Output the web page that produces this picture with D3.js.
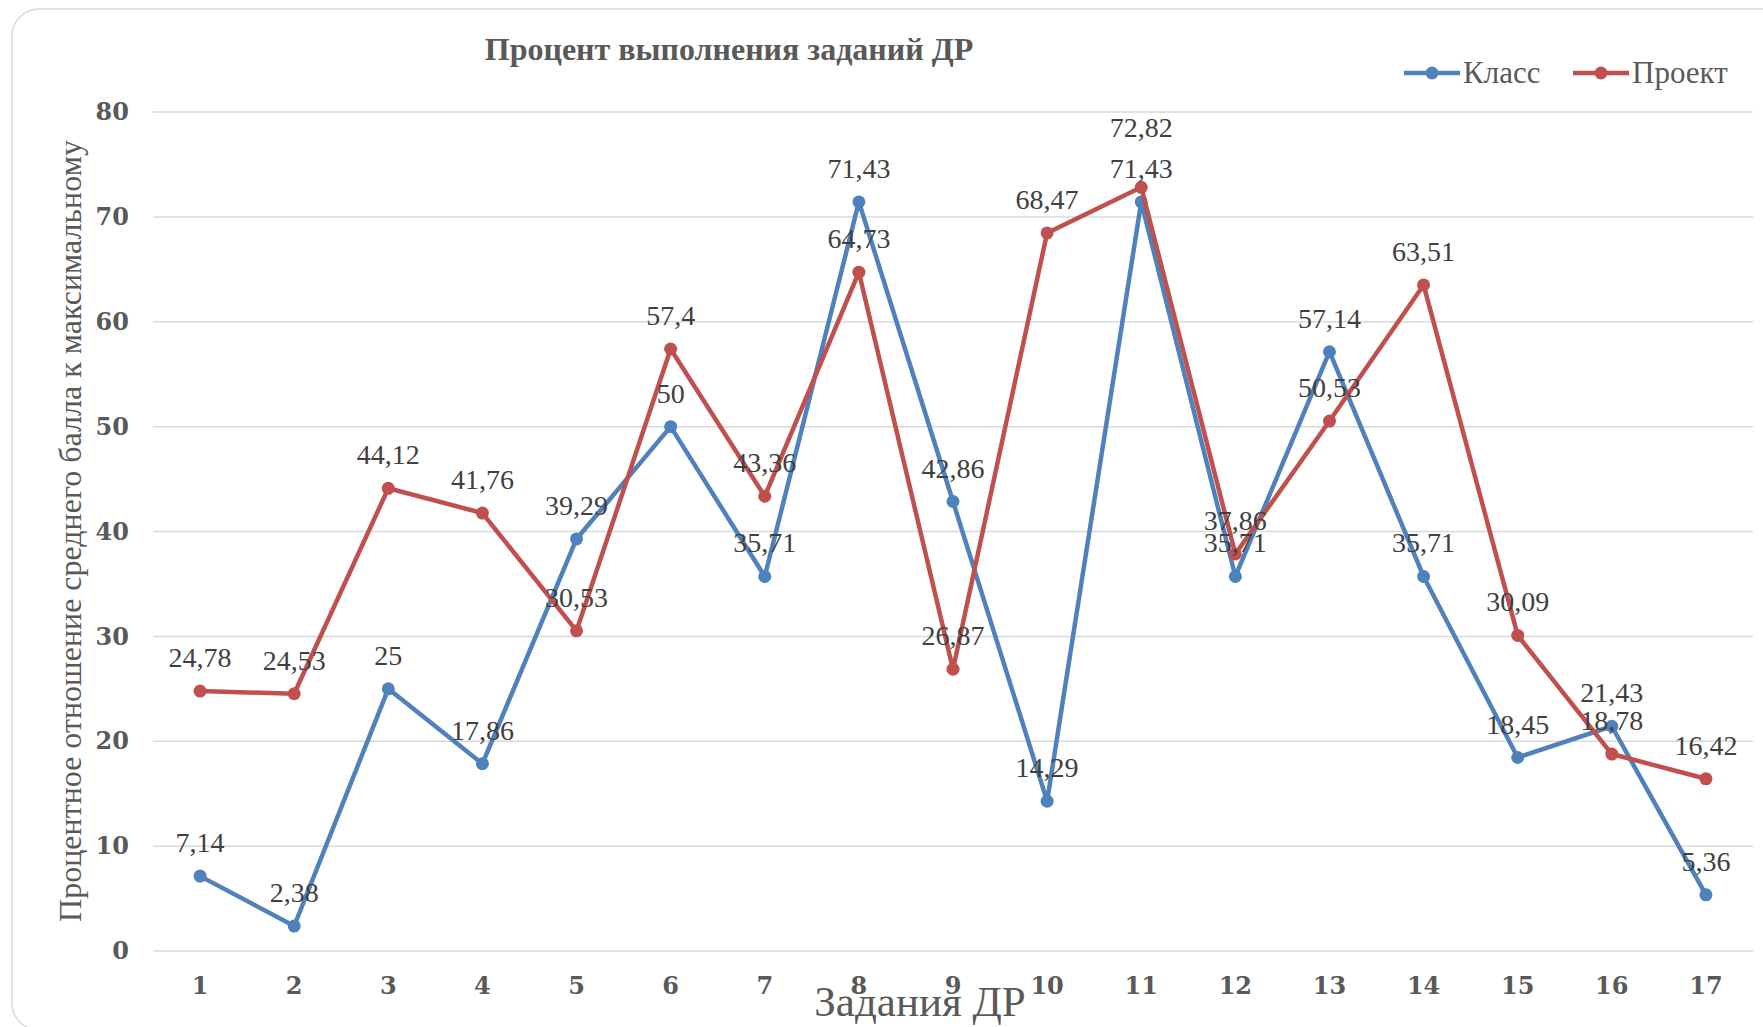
<!DOCTYPE html>
<html>
<head>
<meta charset="utf-8">
<script src="https://cdn.jsdelivr.net/npm/d3@7"></script>
<style>
  body { margin: 0; background: #fff; }
  text { font-family: "Liberation Serif", "Times New Roman", serif; }
</style>
</head>
<body>
<svg width="1763" height="1027"></svg>
<script>
var tasks = [1,2,3,4,5,6,7,8,9,10,11,12,13,14,15,16,17];
var klass  = [7.14, 2.38, 25, 17.86, 39.29, 50, 35.71, 71.43, 42.86, 14.29, 71.43, 35.71, 57.14, 35.71, 18.45, 21.43, 5.36];
var proekt = [24.78, 24.53, 44.12, 41.76, 30.53, 57.4, 43.36, 64.73, 26.87, 68.47, 72.82, 37.86, 50.53, 63.51, 30.09, 18.78, 16.42];
var yTicks = [0,10,20,30,40,50,60,70,80];
var seriesNames = ["Класс", "Проект"];

var colors = {"Класс": "#4f81bd", "Проект": "#c0504d"};
var svg = d3.select('svg');

// chart frame
svg.append('rect')
  .attr('x', 12).attr('y', 9)
  .attr('width', 1790).attr('height', 1021)
  .attr('rx', 27)
  .attr('fill', 'none')
  .attr('stroke', '#d9d9d9')
  .attr('stroke-width', 1.5);

var x = d3.scaleBand().domain(tasks).range([153, 1753]);
var y = d3.scaleLinear().domain([0, 80]).range([951, 112]);
var cx = d => x(d) + x.bandwidth()/2;

// gridlines
svg.append('g')
  .selectAll('line')
  .data(yTicks)
  .enter()
  .append('line')
    .attr('x1', 153).attr('x2', 1753)
    .attr('y1', d => y(d)).attr('y2', d => y(d))
    .attr('stroke', '#d9d9d9')
    .attr('stroke-width', 1.5);

// y axis labels
var yAxis = svg.append('g')
  .attr('transform', 'translate(129,0)')
  .call(d3.axisLeft(y).tickValues(yTicks).tickSize(0).tickPadding(0));
yAxis.select('.domain').remove();
yAxis.selectAll('text')
  .style('font-family', '"DejaVu Serif", serif')
  .style('font-size', '24px')
  .style('font-weight', 'bold')
  .attr('fill', '#595959');

// x axis labels
var xAxis = svg.append('g')
  .attr('transform', 'translate(0,951)')
  .call(d3.axisBottom(x).tickSize(0).tickPadding(26));
xAxis.select('.domain').remove();
xAxis.selectAll('text')
  .style('font-family', '"DejaVu Serif", serif')
  .style('font-size', '24px')
  .style('font-weight', 'bold')
  .attr('fill', '#595959');

var series = [
  {name: "Класс", values: klass},
  {name: "Проект", values: proekt}
];

var line = d3.line()
  .x((d,i) => cx(tasks[i]))
  .y(d => y(d));

series.forEach(function(s) {
  var g = svg.append('g');
  g.append('path')
    .datum(s.values)
    .attr('d', line)
    .attr('fill', 'none')
    .attr('stroke', colors[s.name])
    .attr('stroke-width', 4.5)
    .attr('stroke-linejoin', 'round');
  g.selectAll('circle')
    .data(s.values)
    .enter()
    .append('circle')
      .attr('cx', (d,i) => cx(tasks[i]))
      .attr('cy', d => y(d))
      .attr('r', 6.5)
      .attr('fill', colors[s.name]);
});

// data labels (above the points); the 72,82 label at task 11 is pushed up in the original
series.forEach(function(s) {
  svg.append('g')
    .selectAll('text')
    .data(s.values)
    .enter()
    .append('text')
      .attr('x', (d,i) => cx(tasks[i]))
      .attr('y', (d,i) => y(d) - 24 - (s.name == "Проект" && tasks[i] == 11 ? 26 : 0))
      .attr('text-anchor', 'middle')
      .attr('font-size', 28)
      .attr('fill', '#404040')
      .text(d => String(d).replace('.', ','));
});

// title
svg.append('text')
  .attr('x', 729)
  .attr('y', 60)
  .attr('text-anchor', 'middle')
  .attr('font-size', 32)
  .attr('font-weight', 'bold')
  .attr('fill', '#595959')
  .text('Процент выполнения заданий ДР');

// axis titles
svg.append('text')
  .attr('transform', 'translate(81,531) rotate(-90)')
  .attr('text-anchor', 'middle')
  .attr('font-size', 32)
  .attr('fill', '#595959')
  .text('Процентное отношение среднего балла к максимальному');

svg.append('text')
  .attr('x', 920)
  .attr('y', 1016)
  .attr('text-anchor', 'middle')
  .attr('font-size', 43)
  .attr('fill', '#595959')
  .text('Задания ДР');

// legend
var legX = [1404, 1573];
seriesNames.forEach(function(name, i) {
  var g = svg.append('g').attr('transform', 'translate(' + legX[i] + ',73)');
  g.append('line')
    .attr('x1', 0).attr('x2', 56)
    .attr('stroke', colors[name])
    .attr('stroke-width', 4.5);
  g.append('circle')
    .attr('cx', 28).attr('r', 6.5)
    .attr('fill', colors[name]);
  g.append('text')
    .attr('x', 59).attr('y', 10)
    .attr('font-size', 31)
    .attr('fill', '#595959')
    .text(name);
});
</script>
</body>
</html>
